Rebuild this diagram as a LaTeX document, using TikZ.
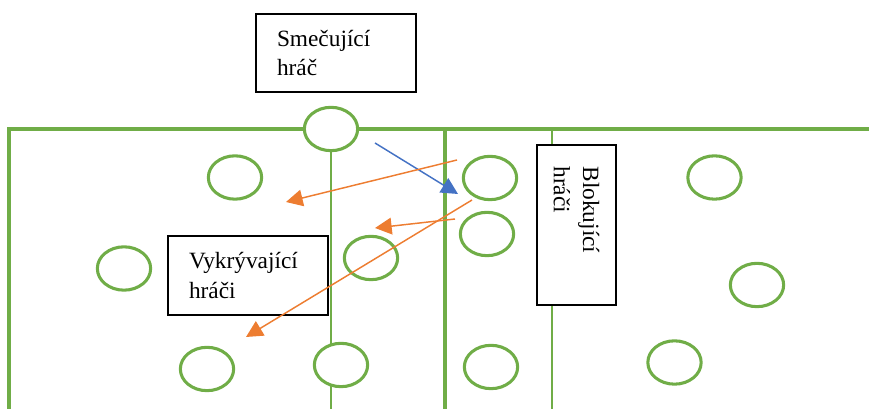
\documentclass[tikz,border=0pt]{standalone}
\usepackage{fontspec}
\setmainfont{Liberation Serif}
\usetikzlibrary{shapes.geometric,arrows.meta}
\definecolor{fieldgreen}{HTML}{70AD47}
\definecolor{arrblue}{HTML}{4472C4}
\definecolor{arrorange}{HTML}{ED7D31}
\tikzset{
  thickline/.style={fieldgreen, line width=2.3pt},
  thinline/.style={fieldgreen, line width=1.1pt},
  player/.style={ellipse, draw=fieldgreen, fill=white, line width=2.3pt,
    minimum width=40pt, minimum height=32.5pt, inner sep=0pt},
  labelbox/.style={draw=black, fill=white, line width=1.5pt, align=left,
    font=\fontsize{17.5}{22}\selectfont, text width=88.5pt,
    inner xsep=15.75pt, inner ysep=0pt, minimum height=59pt},
  moveblue/.style={arrblue, line width=1.1pt, -{Triangle[length=12.5pt,width=12.5pt]}},
  moveorange/.style={arrorange, line width=1.1pt, -{Triangle[length=12.5pt,width=12.5pt]}}
}
\begin{document}
\begin{tikzpicture}[x=0.75pt,y=-0.75pt]
\useasboundingbox (0,0) rectangle (869,409);
% field lines
\coordinate (tl) at (9,129);
\coordinate (tr) at (869,129);
\coordinate (bl) at (9,409);
\coordinate (cm) at (445,129);
\coordinate (cb) at (445,409);
\coordinate (t1) at (331,129);
\coordinate (b1) at (331,409);
\coordinate (t2) at (552,129);
\coordinate (b2) at (552,409);
\draw[thinline] (t1) -- (b1);
\draw[thinline] (t2) -- (b2);
\draw[thickline] (bl) -- (tl) -- (tr);
\draw[thickline] (cm) -- (cb);
% players
\node[player] (e1) at (331,129) {};
\node[player] (e2) at (235,177.5) {};
\node[player] (e3) at (490,178) {};
\node[player] (e4) at (487,234) {};
\node[player] (e5) at (124,268.5) {};
\node[player] (e6) at (371,258) {};
\node[player] (e7) at (714.5,177.5) {};
\node[player] (e8) at (757,285) {};
\node[player] (e9) at (207,369) {};
\node[player] (e10) at (341,365) {};
\node[player] (e11) at (491,367) {};
\node[player] (e12) at (674.5,362.5) {};
% label boxes
\node[labelbox] (smec) at (336,53) {Smečující\\hráč};
\node[labelbox] (vykr) at (248,275.5) {Vykrývající\\hráči};
\node[labelbox, rotate=-90] (blok) at (576.5,225.5) {Blokující\\hráči};
% arrows
\coordinate (a1s) at (375,143);
\coordinate (a1e) at (458,194);
\coordinate (a2s) at (457,160);
\coordinate (a2e) at (286,202);
\coordinate (a3s) at (455,219);
\coordinate (a3e) at (375,228);
\coordinate (a4s) at (472,200);
\coordinate (a4e) at (246,337);
\draw[moveblue] (a1s) -- (a1e);
\draw[moveorange] (a2s) -- (a2e);
\draw[moveorange] (a3s) -- (a3e);
\draw[moveorange] (a4s) -- (a4e);
\end{tikzpicture}
\end{document}
